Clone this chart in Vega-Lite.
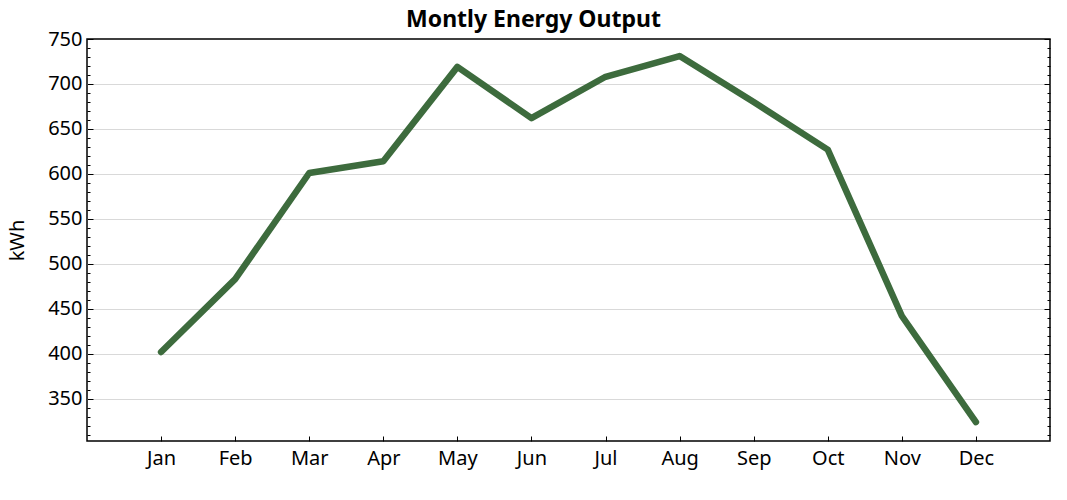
{
  "$schema": "https://vega.github.io/schema/vega-lite/v6.json",
  "width": 963,
  "height": 402,
  "autosize": {"type": "none"},
  "padding": {"left": 87, "top": 39, "right": 17, "bottom": 59},
  "background": "white",
  "title": {"text": "Montly Energy Output", "font": "Noto Sans", "fontSize": 23, "fontWeight": "bold", "color": "black", "anchor": "middle", "dx": -35, "offset": -3},
  "config": {
    "view": {"stroke": "black", "strokeWidth": 1.5},
    "axis": {"labelFont": "Noto Sans", "titleFont": "Noto Sans", "labelColor": "black", "titleColor": "black", "domainColor": "black", "tickColor": "black"}
  },
  "data": {"values": [
    {"month": "Jan", "kWh": 402},
    {"month": "Feb", "kWh": 483},
    {"month": "Mar", "kWh": 601},
    {"month": "Apr", "kWh": 614},
    {"month": "May", "kWh": 719},
    {"month": "Jun", "kWh": 662},
    {"month": "Jul", "kWh": 708},
    {"month": "Aug", "kWh": 731},
    {"month": "Sep", "kWh": 680},
    {"month": "Oct", "kWh": 627},
    {"month": "Nov", "kWh": 442},
    {"month": "Dec", "kWh": 324}
  ]},
  "encoding": {
    "x": {"field": "month", "type": "ordinal", "sort": null,
      "scale": {"type": "point", "padding": 1},
      "axis": {"title": null, "labelAngle": 0, "labelFontSize": 20, "tickSize": -5, "labelPadding": 12, "domain": false, "grid": false}}
  },
  "layer": [
    {
      "mark": {"type": "line", "color": "#3d6b3d", "strokeWidth": 6.5, "strokeCap": "round", "strokeJoin": "round"},
      "encoding": {
        "y": {"field": "kWh", "type": "quantitative", "scale": {"domain": [303, 750], "nice": false, "zero": false},
          "axis": {"orient": "left", "title": "kWh", "titleFontSize": 20, "titleFontWeight": "normal", "titlePadding": 20,
            "values": [310,320,330,340,350,360,370,380,390,400,410,420,430,440,450,460,470,480,490,500,510,520,530,540,550,560,570,580,590,600,610,620,630,640,650,660,670,680,690,700,710,720,730,740,750],
            "labelExpr": "datum.value % 50 === 0 ? datum.label : ''",
            "labelFontSize": 20, "labelPadding": 11, "domain": false,
            "tickSize": {"condition": {"test": "datum.value % 50 === 0", "value": -6}, "value": -3},
            "grid": true, "gridColor": "#d9d9d9", "gridWidth": 1,
            "gridOpacity": {"condition": {"test": "datum.value % 50 === 0 && datum.value < 750", "value": 1}, "value": 0}}}
      }
    },
    {
      "mark": {"type": "line", "opacity": 0},
      "encoding": {
        "y": {"field": "kWh", "type": "quantitative", "scale": {"domain": [303, 750], "nice": false, "zero": false},
          "axis": {"orient": "right", "title": null, "labels": false, "domain": false, "grid": false,
            "values": [310,320,330,340,350,360,370,380,390,400,410,420,430,440,450,460,470,480,490,500,510,520,530,540,550,560,570,580,590,600,610,620,630,640,650,660,670,680,690,700,710,720,730,740,750],
            "tickSize": {"condition": {"test": "datum.value % 50 === 0", "value": -6}, "value": -3}}}
      }
    }
  ],
  "resolve": {"axis": {"y": "independent"}}
}
